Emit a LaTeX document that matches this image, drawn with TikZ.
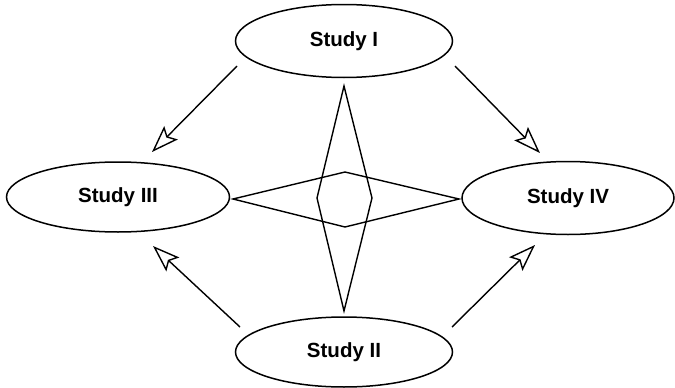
\documentclass[tikz,border=0pt]{standalone}
\usepackage{fontspec}
\setmainfont{Liberation Sans}
\usetikzlibrary{arrows.meta,shapes.geometric}
\begin{document}
\begin{tikzpicture}[x=1pt,y=-1pt,
  study/.style={draw,line width=1.5pt,ellipse,inner sep=0pt,
    minimum width=217pt,minimum height=73pt,font=\bfseries\fontsize{20.5}{23}\selectfont},
  link/.style={line width=1.4pt,-{Stealth[open,length=27pt,width=19pt,inset=5pt,line width=1.4pt]}},
  star/.style={line width=1.4pt,line join=miter}]
\useasboundingbox (0,0) rectangle (675,388);
\node[study] (s1) at (344,41) {Study I};
\node[study,minimum width=223pt,minimum height=70pt] (s3) at (118,197) {Study III};
\node[study,minimum width=212pt] (s4) at (568,198) {Study IV};
\node[study,minimum height=70pt] (s2) at (344,352) {Study II};
% four-pointed star between the studies
\coordinate (hl) at (233,199);
\coordinate (hr) at (459,199);
\coordinate (ht) at (345,172);
\coordinate (hb) at (345,227);
\coordinate (vt) at (344,86);
\coordinate (vb) at (344,311);
\coordinate (vl) at (317,198);
\coordinate (vr) at (372,198);
\draw[star] (hl) -- (ht) -- (hr) -- (hb) -- cycle;
\draw[star] (vt) -- (vr) -- (vb) -- (vl) -- cycle;
% arrows
\coordinate (a1) at (237,66);
\coordinate (t1) at (152,152);
\coordinate (a2) at (455,66);
\coordinate (t2) at (540,153);
\coordinate (a3) at (240,327);
\coordinate (t3) at (153,246);
\coordinate (a4) at (452,327);
\coordinate (t4) at (535,245);
\draw[link] (a1) -- (t1);
\draw[link] (a2) -- (t2);
\draw[link] (a3) -- (t3);
\draw[link] (a4) -- (t4);
\end{tikzpicture}
\end{document}
